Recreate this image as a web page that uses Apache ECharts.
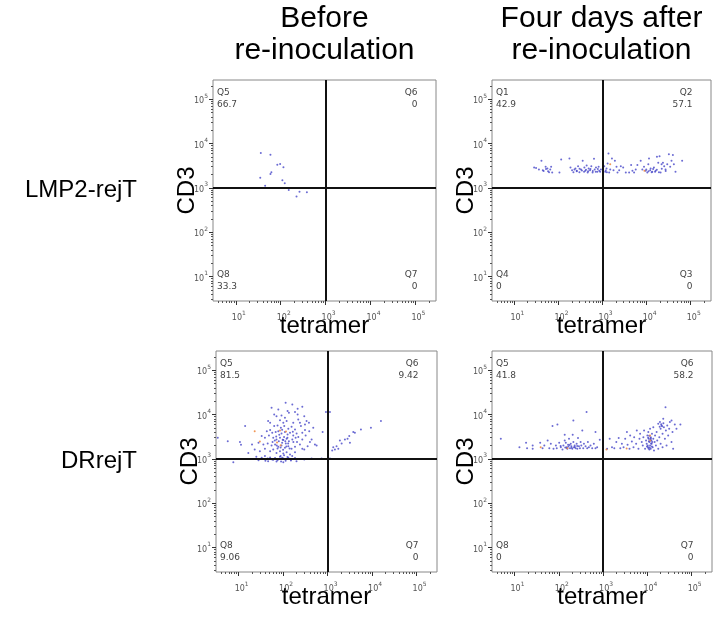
<!DOCTYPE html>
<html><head><meta charset="utf-8">
<script src="https://cdn.jsdelivr.net/npm/echarts@6/dist/echarts.min.js"></script>
<style>html,body{margin:0;padding:0;background:#fff}#c{width:715px;height:621px}</style>
</head><body><div id="c"></div>
<script>
// ---------- data ----------
const colTitles = [['Before', 're-inoculation'], ['Four days after', 're-inoculation']];
const rowLabels = ['LMP2-rejT', 'DRrejT'];
const xTitle = 'tetramer';
const yTitle = 'CD3';
const majorTicks = [10, 100, 1000, 10000, 100000];
const minorTicks = [3,4,5,6,7,8,9,20,30,40,50,60,70,80,90,200,300,400,500,600,700,800,900,
  2000,3000,4000,5000,6000,7000,8000,9000,20000,30000,40000,50000,60000,70000,80000,90000,200000];
const gate = 1000;

// quadrant names / percentages: [upper-left, upper-right, lower-left, lower-right]
const tlQuadNames = ['Q5','Q6','Q8','Q7'];  const tlQuadValues = ['66.7','0','33.3','0'];
const trQuadNames = ['Q1','Q2','Q4','Q3'];  const trQuadValues = ['42.9','57.1','0','0'];
const blQuadNames = ['Q5','Q6','Q8','Q7'];  const blQuadValues = ['81.5','9.42','9.06','0'];
const brQuadNames = ['Q5','Q6','Q8','Q7'];  const brQuadValues = ['41.8','58.2','0','0'];

// events: [tetramer, CD3]
const tlBlue = [[36,6100],[59,5600],[84,3300],[97,3450],[115,2900],[62,2250],[59,2060],[35,1680],[109,1490],[123,1270],[45,1110],[151,890],[262,810],[383,790],[225,640]];
const tlWarm = [];

const trBlue = [[28,2880],[31,2780],[36,2590],[41,4070],[44,2500],[51,2980],[56,2730],[61,2250],[65,2590],[68,2980],[72,2220],[105,2220],[115,4360],[177,4590],[187,2880],[203,2500],[218,2250],[242,2730],[259,2420],[278,3080],[298,2250],[324,2590],[354,4070],[386,2880],[406,2420],[435,3190],[459,2220],[483,2730],[518,2500],[555,3080],[594,2220],[638,4510],[661,2590],[708,2880],[759,2300],[813,2980],[841,2420],[917,2590],
[1090,3080],[1150,2300],[1230,2730],[1300,3540],[1360,5940],[1410,2220],[1490,2590],[1630,4590],[1770,2500],[1900,4070],[2070,2980],[2180,2220],[2380,2500],[2590,3080],[2930,2880],[3360,2220],[4000,2220],[4440,3250],[4750,2420],[5180,2220],[5650,2590],[6150,3250],[7320,4070],[7980,2590],[8710,2980],[9490,2420],[10350,2220],[10900,3420],[11300,4590],[12300,2730],[13400,2300],[14600,2880],[16000,2420],[17100,5000],[18300,3660],[19600,5180],[20700,2220],[21800,3420],[23400,3660],[25000,3080],[26800,2590],[29300,3420],[31900,5740],[34200,2980],[36600,4070],[39300,5460],[41400,3420],[45100,2300],[63800,4070],
[46,2400],[52,2650],[58,2350],[230,2600],[260,2350],[300,2700],[340,2450],[380,2300],[420,2550],[470,2350],[530,2650],[600,2400],[700,2300],[780,2650],[880,2300],[1180,2450],[1250,2250],[9800,2600],[11000,2350],[12000,2500],[13000,2250],[14000,2650],[15500,2300],[17000,2550],[19000,2250],[22000,2700],[27000,2400]];
const trWarm = [[1490,3420],[8900,2420]];

const blBlue = [[114,18300],[161,16800],[126,11900],[135,10900],[212,13400],[71,9160],[63,10000],[92,9490],[110,8410],[46,7080],[51,6490],[85,7450],[101,6490],[120,7080],[169,6490],[219,7710],[239,6490],[299,9160],[63,5460],[75,5650],[89,5000],[106,5460],[131,4750],[155,5270],[185,4590],[252,5460],[310,5940],[43,4210],[51,4440],[57,3860],[68,4000],[78,4210],[92,3720],[110,4000],[126,3540],[143,3860],[169,3360],[201,3720],[270,3860],[33,3250],[39,2980],[48,3360],[60,2980],[71,2730],[85,2980],[101,2640],[120,2830],[135,2500],[161,2730],[191,2980],[28,2300],[36,2100],[45,2220],[55,2000],[66,2100],[78,1870],[92,2000],[110,1770],[131,1930],[155,1680],[185,1870],[239,2100],[20,2100],[23,1630],[30,1490],[39,1680],[51,1490],[60,1630],[71,1360],[85,1490],[101,1320],[120,1410],[143,1250],[185,1410],[270,1680],[16.5,1360],[25,1110],[33,1050],[39,1150],[45,1010],[51,1070],[57,966],[66,1040],[75,933],[85,1110],[101,1010],[114,901],[131,1050],[150,966],[185,1040],[299,966],[437,1010],[733,1010],[1130,1020],[14,5460],[3.4,2980],[5.7,2500],[10.7,2380],[11.3,2070],[7.6,841],[28,933],[46,885],[71,871],[101,841],[299,1630],[356,1930],[401,2380],[270,2730],[321,3360],[437,2730],[519,2100],[566,2000],[387,4210],[310,4440],[337,7080],[212,10000],[185,11300],[78,13000],[55,14100],[270,14900],[381,6490],[476,5000],
[918,11300],[1130,11300],[773,4000],[2810,2830],[1340,1830],[1460,1630],[1590,1930],[1740,1680],[1890,2590],[2070,2220],[2450,2730],[3070,3250],[3180,2300],[3780,4000],[4110,3860],[5610,4590],[9420,5000],[15800,7080],[1270,1540],
[40,900],[90,870],[150,910],[60,950],[200,880],
[70,3200],[80,2500],[95,2300],[105,3100],[115,2200],[75,1700],[88,1800],[98,2700],[125,3000],[65,2600],[82,3500],[112,2500],[95,4500],[130,2200],[72,2000],[100,1600],[118,1900],[140,1700],[58,2400],[88,1150],[105,1200],[125,1100],[95,1050],[160,1150],[170,2400],[205,2400],[220,3100],[165,4100]];
const blWarm = [[23,4200],[30,2460],[85,4350],[116,4130],[73,2330],[88,2030]];

const brBlue = [[4.9,2830],[12.9,1830],[18.2,2300],[19.2,1740],[25.7,2000],[25.7,1680],[38,2300],[43,1740],[47,2000],[56,2590],[61,1740],[66,2180],[72,5460],[76,1680],[86,2000],[93,5940],[90,1740],[102,2300],[111,1830],[121,1630],[127,2000],[136,3480],[136,2590],[144,2300],[151,1830],[156,1680],[162,2070],[170,2830],[179,1740],[186,2180],[192,1930],[202,1680],[206,3480],[213,7330],[213,2380],[220,1830],[228,2000],[240,1740],[253,2180],[262,1680],[271,2930],[285,1930],[300,1740],[311,2380],[322,2000],[339,4360],[357,1740],[369,2180],[402,1930],[423,11300],[438,1740],[454,2380],[478,1830],[520,2000],[567,1740],[618,2180],[674,4000],[674,1740],[734,1830],[842,2680],
[110,1950],[140,1800],[165,1900],[195,1780],[230,1850],[260,1950],[175,2050],[150,1750],
[1230,1680],[1410,2830],[1590,1830],[1790,1740],[1990,2380],[2250,2930],[2450,1740],[2660,2180],[2900,1830],[3160,2830],[3450,4000],[3570,2070],[3950,1680],[4090,3360],[4460,2460],[4860,1830],[5030,3080],[5570,2180],[5770,4360],[6290,1680],[6630,2830],[6850,3660],[7470,2380],[7870,2000],[8130,3080],[8420,4360],[8870,1680],[9330,2590],[9660,2180],[10000,3360],[10350,1830],[10500,4000],[10700,2830],[11100,1630],[11100,2380],[11500,4750],[11500,2000],[11900,3080],[11900,1680],[12300,2590],[12500,2180],[12700,3660],[13200,1830],[13600,2830],[13600,5180],[14100,1540],[14600,2380],[14900,3360],[15600,2000],[16200,4000],[16700,2590],[17600,6150],[17600,1680],[18600,3080],[19200,6720],[19900,4750],[19900,2180],[20900,5650],[22000,3660],[22000,1830],[22800,7980],[23600,5180],[24900,2830],[25700,14600],[26200,4360],[27100,2000],[28100,5650],[29500,3360],[31100,4750],[32200,6720],[35100,7330],[35100,2380],[36900,4000],[41600,5940],[55700,5940],[45400,4750],[38200,1680],
[10200,2000],[10800,2500],[11300,1800],[11700,2750],[12100,2200],[12600,1900],[12900,2400],[10400,3000],[11000,3300],[12000,2900],[9800,1900],[10600,1700],[11800,2600],[20500,6000],[21500,5400],[23000,6300],[19000,5300]];
const brWarm = [[39,1830],[156,1740],[1190,1620],[3400,1700],[11500,3370],[11600,2580]];

// ---------- layout ----------
const grids = [
  {left:213, top:80, width:223, height:221},
  {left:492, top:80, width:219, height:221},
  {left:216, top:351, width:221, height:221},
  {left:492, top:351, width:220, height:221}
];
const panels = [
  {blue: tlBlue, warm: tlWarm, names: tlQuadNames, vals: tlQuadValues},
  {blue: trBlue, warm: trWarm, names: trQuadNames, vals: trQuadValues},
  {blue: blBlue, warm: blWarm, names: blQuadNames, vals: blQuadValues},
  {blue: brBlue, warm: brWarm, names: brQuadNames, vals: brQuadValues}
];
const X_MIN = 3.1, X_MAX = 288000, Y_MIN = 2.8, Y_MAX = 270000;
const tickFont = 'DejaVu Sans';
const labelRich = {
  b: {fontSize: 8, fontFamily: tickFont, color: '#555', lineHeight: 12, verticalAlign: 'bottom'},
  s: {fontSize: 6, fontFamily: tickFont, color: '#555', lineHeight: 6, verticalAlign: 'top'}
};
const fmt = v => '{b|10}{s|' + Math.round(Math.log10(v)) + '}';

const xAxes = [], yAxes = [], series = [], gridOpts = [], texts = [];
grids.forEach((g, i) => {
  gridOpts.push({left: g.left, top: g.top, width: g.width, height: g.height,
    show: true, borderColor: '#888', borderWidth: 1, backgroundColor: '#fff', containLabel: false});
  const common = {type: 'log', logBase: 10, gridIndex: i, splitLine: {show: false},
    axisLine: {show: false}, minorTick: {show: false}};
  xAxes.push(Object.assign({}, common, {min: X_MIN, max: X_MAX, position: 'bottom',
    axisTick: {show: true, customValues: majorTicks, length: 4, lineStyle: {color: '#333', width: 1}},
    axisLabel: {customValues: majorTicks, margin: 9, formatter: fmt, rich: labelRich, padding: [0, 0, 0, 6]}}));
  xAxes.push(Object.assign({}, common, {min: X_MIN, max: X_MAX, position: 'bottom',
    axisTick: {show: true, customValues: minorTicks, length: 2, lineStyle: {color: '#555', width: 1}},
    axisLabel: {show: false}}));
  yAxes.push(Object.assign({}, common, {min: Y_MIN, max: Y_MAX, position: 'left',
    axisTick: {show: true, customValues: majorTicks, length: 4, lineStyle: {color: '#333', width: 1}},
    axisLabel: {customValues: majorTicks, margin: 5, formatter: fmt, rich: labelRich}}));
  yAxes.push(Object.assign({}, common, {min: Y_MIN, max: Y_MAX, position: 'left',
    axisTick: {show: true, customValues: minorTicks, length: 2, lineStyle: {color: '#555', width: 1}},
    axisLabel: {show: false}}));

  const p = panels[i];
  series.push({type: 'scatter', xAxisIndex: 2*i, yAxisIndex: 2*i, data: p.blue, symbolSize: 2,
    itemStyle: {color: '#4646c8', opacity: 0.8}, silent: true, z: 2,
    markLine: {silent: true, symbol: 'none', label: {show: false}, animation: false,
      lineStyle: {color: '#111', width: 2, type: 'solid'},
      data: [{xAxis: gate}, {yAxis: gate}]}});
  series.push({type: 'scatter', xAxisIndex: 2*i, yAxisIndex: 2*i, data: p.warm, symbolSize: 2,
    itemStyle: {color: '#f08c44', opacity: 0.9}, silent: true, z: 3});

  // quadrant labels
  const L = g.left + 4, R = g.left + g.width - 18.5, T = g.top, B = g.top + g.height;
  const qs = {font: '9px "DejaVu Sans"', fill: '#444'};
  const mk = (x, y, t, al) => texts.push({type: 'text', x: x, y: y, z: 10,
    style: Object.assign({text: t, textAlign: al, align: al, textVerticalAlign: 'middle', verticalAlign: 'middle'}, qs)});
  mk(L, T + 13, p.names[0], 'left');  mk(L, T + 25, p.vals[0], 'left');
  mk(R, T + 13, p.names[1], 'right'); mk(R, T + 25, p.vals[1], 'right');
  mk(L, B - 26, p.names[2], 'left');  mk(L, B - 14, p.vals[2], 'left');
  mk(R, B - 26, p.names[3], 'right'); mk(R, B - 14, p.vals[3], 'right');

  // axis titles
  const big = '24px "Liberation Sans"';
  texts.push({type: 'text', x: g.left + g.width / 2, y: B + 25, z: 10,
    style: {text: xTitle, font: big, fill: '#000', textAlign: 'center', align: 'center', textVerticalAlign: 'middle', verticalAlign: 'middle'}});
  texts.push({type: 'text', x: g.left - 26, y: T + g.height / 2, rotation: Math.PI / 2, z: 10,
    style: {text: yTitle, font: big, fill: '#000', textAlign: 'center', align: 'center', textVerticalAlign: 'middle', verticalAlign: 'middle'}});
});

// column titles
[0, 1].forEach(c => {
  const g = grids[c];
  const cx = g.left + g.width / 2;
  colTitles[c].forEach((line, k) => {
    texts.push({type: 'text', x: cx, y: 19 + k * 32, z: 10,
      style: {text: line, font: '30px "Liberation Sans"', fill: '#000', textAlign: 'center', align: 'center', textVerticalAlign: 'middle', verticalAlign: 'middle'}});
  });
});
// row labels
[0, 2].forEach((gi, r) => {
  const g = grids[gi];
  texts.push({type: 'text', x: 137, y: g.top + g.height / 2, z: 10,
    style: {text: rowLabels[r], font: '24px "Liberation Sans"', fill: '#000', textAlign: 'right', align: 'right', textVerticalAlign: 'middle', verticalAlign: 'middle'}});
});

const chart = echarts.init(document.getElementById('c'), null, {renderer: 'canvas'});
chart.setOption({
  animation: false,
  backgroundColor: '#fff',
  grid: gridOpts,
  xAxis: xAxes,
  yAxis: yAxes,
  series: series,
  graphic: {elements: texts}
});
</script></body></html>
